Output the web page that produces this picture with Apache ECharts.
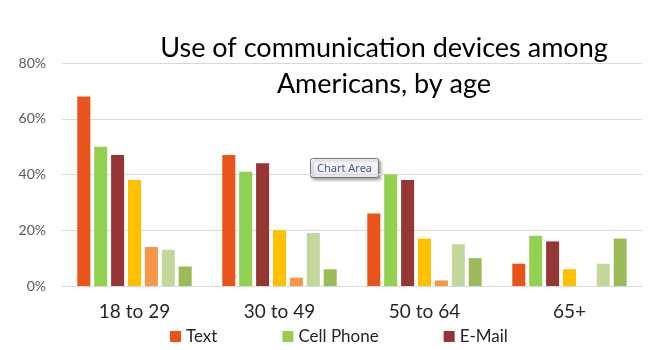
<!DOCTYPE html>
<html>
<head>
<meta charset="utf-8">
<script src="https://cdn.jsdelivr.net/npm/echarts@6/dist/echarts.min.js"></script>
<style>
  html, body { margin: 0; padding: 0; background: #fff; }
  #chart { width: 650px; height: 350px; }
</style>
</head>
<body>
<div id="chart"></div>
<script>
// Age groups along the x axis
const categories = ['18 to 29', '30 to 49', '50 to 64', '65+'];

// Share of each age group using each device (percent)
const textValues      = [68, 47, 26, 8];
const cellPhoneValues = [50, 41, 40, 18];
const emailValues     = [47, 44, 38, 16];
const series4Values   = [38, 20, 17, 6];
const series5Values   = [14, 3, 2, null];
const series6Values   = [13, 19, 15, 8];
const series7Values   = [7, 6, 10, 17];

const yTicks = [0, 20, 40, 60, 80];

const FONT = 'Lato, "Open Sans", sans-serif';

const seriesDefs = [
  { name: 'Text',       data: textValues,      color: '#E8541A' },
  { name: 'Cell Phone', data: cellPhoneValues, color: '#92D050' },
  { name: 'E-Mail',     data: emailValues,     color: '#963634' },
  { name: 'Series 4',   data: series4Values,   color: '#FFC000' },
  { name: 'Series 5',   data: series5Values,   color: '#F79646' },
  { name: 'Series 6',   data: series6Values,   color: '#C4D79B' },
  { name: 'Series 7',   data: series7Values,   color: '#9BBB59' }
];

const chart = echarts.init(document.getElementById('chart'), null, { renderer: 'canvas' });

chart.setOption({
  animation: false,
  backgroundColor: '#ffffff',
  title: {
    text: 'Use of communication devices among\nAmericans, by age',
    left: 379,
    top: 25,
    textAlign: 'center',
    textStyle: {
      fontFamily: FONT,
      fontSize: 27,
      fontWeight: 'normal',
      color: '#000000',
      lineHeight: 36
    }
  },
  legend: {
    data: ['Text', 'Cell Phone', 'E-Mail'],
    left: 165,
    top: 323,
    itemWidth: 11,
    itemHeight: 11,
    itemGap: 65,
    icon: 'rect',
    textStyle: { fontFamily: FONT, fontSize: 17, color: '#262626' }
  },
  grid: { left: 62, right: 8, top: 63, bottom: 64, containLabel: false },
  xAxis: {
    type: 'category',
    data: categories,
    axisLine: { show: true, lineStyle: { color: '#D9D9D9', width: 1 } },
    axisTick: { show: false },
    axisLabel: { fontFamily: FONT, fontSize: 19, color: '#262626', margin: 16 }
  },
  yAxis: {
    type: 'value',
    min: yTicks[0],
    max: yTicks[yTicks.length - 1],
    interval: yTicks[1] - yTicks[0],
    axisLine: { show: false },
    axisTick: { show: false },
    splitLine: { lineStyle: { color: '#D9D9D9', width: 1 } },
    axisLabel: {
      fontFamily: FONT,
      fontSize: 14,
      color: '#595959',
      margin: 16,
      formatter: '{value}%'
    }
  },
  series: seriesDefs.map(s => ({
    name: s.name,
    type: 'bar',
    data: s.data,
    barWidth: 13,
    barGap: '30%',
    itemStyle: { color: s.color }
  })),
  graphic: [
    {
      type: 'group',
      left: 310,
      top: 158,
      children: [
        {
          type: 'rect',
          shape: { x: 0, y: 0, width: 68, height: 19, r: 2 },
          style: {
            fill: new echarts.graphic.LinearGradient(0, 0, 0, 1, [
              { offset: 0, color: '#FFFFFF' },
              { offset: 1, color: '#E4E5F0' }
            ]),
            stroke: '#767676',
            lineWidth: 1,
            shadowBlur: 3,
            shadowOffsetX: 2,
            shadowOffsetY: 2,
            shadowColor: 'rgba(0,0,0,0.35)'
          }
        },
        {
          type: 'text',
          style: {
            text: 'Chart Area',
            x: 34,
            y: 10,
            align: 'center',
            verticalAlign: 'middle',
            fontFamily: '"Noto Sans", sans-serif',
            fontSize: 11,
            fill: '#4C607A'
          }
        }
      ]
    }
  ]
});
</script>
</body>
</html>
